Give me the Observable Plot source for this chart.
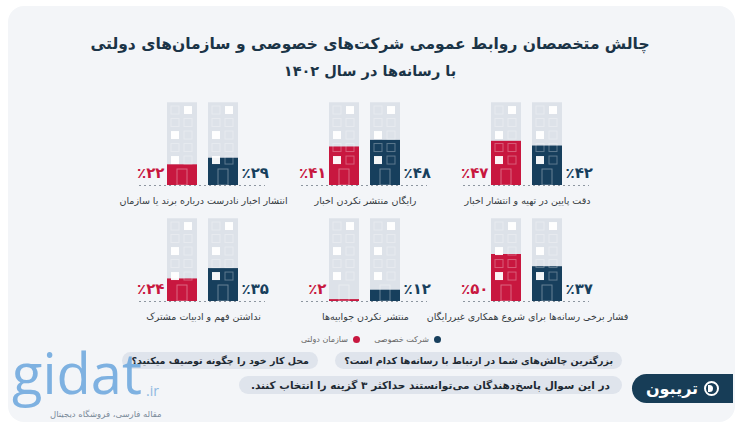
<!DOCTYPE html>
<html lang="fa">
<head>
<meta charset="utf-8">
<script src="https://cdn.jsdelivr.net/npm/d3@7"></script>
<script src="https://cdn.jsdelivr.net/npm/@observablehq/plot@0.6"></script>
<style>
  html, body { margin: 0; padding: 0; background: #ffffff; }
  #page { position: relative; width: 740px; height: 431px; overflow: hidden; font-family: "DejaVu Sans", sans-serif; }
  #card { position: absolute; left: 8px; top: 6px; width: 727px; height: 416px; background: #f3f5f8; border-radius: 16px; }
  #chart { position: absolute; left: 0; top: 0; }
  .title { position: absolute; left: 0; width: 740px; text-align: center; direction: rtl; color: #1b3447; font-weight: bold; }
  .leg { position: absolute; direction: rtl; font-size: 8px; color: #666; display: flex; align-items: center; gap: 5px; top: 335px; }
  .dot { width: 7px; height: 7px; border-radius: 50%; display: inline-block; }
  .pill { position: absolute; direction: rtl; background: #dfe4ec; color: #1e2a33; font-weight: bold; font-size: 9.5px; border-radius: 10px; padding: 3px 9px; white-space: nowrap; }
  #logo { position: absolute; left: 632px; top: 374px; width: 101px; height: 29px; background: #173d57; border-radius: 15px 0 0 15px; color: #fff; display: flex; align-items: center; justify-content: center; gap: 6px; font-weight: bold; font-size: 16px; direction: rtl; }
  #logo .ic { width: 15px; height: 15px; border-radius: 50%; border: 2px solid #fff; box-sizing: border-box; position: relative; }
  #logo .ic::after { content: ""; position: absolute; left: 2px; top: 2px; width: 5px; height: 7px; background: #fff; border-radius: 0 4px 4px 0; }
  #wm { position: absolute; left: 12px; top: 344px; line-height: 1; font-family: "Open Sans", "DejaVu Sans", sans-serif; font-size: 56px; color: #6aa6dd; opacity: 0.85; }
  #wmir { position: absolute; left: 146px; top: 384px; line-height: 1; font-family: "Open Sans", sans-serif; font-size: 14px; color: #8fb9e2; }
  #wmsub { position: absolute; left: 50px; top: 410px; line-height: 1; direction: rtl; font-size: 8.5px; color: #7a8a99; }
</style>
</head>
<body>
<div id="page">
  <div id="card"></div>
  <div class="title" style="top:35px;font-size:15.5px;">چالش متخصصان روابط عمومی شرکت‌های خصوصی و سازمان‌های دولتی</div>
  <div class="title" style="top:63px;font-size:14.5px;">با رسانه‌ها در سال ۱۴۰۲</div>
  <div id="chart"></div>
  <div class="leg" style="right:299px;"><span class="dot" style="background:#173f5d"></span><span id="leg0"></span></div>
  <div class="leg" style="right:380px;"><span class="dot" style="background:#c8173f"></span><span id="leg1"></span></div>
  <div class="pill" style="right:118px;top:352px;">بزرگترین چالش‌های شما در ارتباط با رسانه‌ها کدام است؟</div>
  <div class="pill" style="right:422px;top:352px;">محل کار خود را چگونه توصیف میکنید؟</div>
  <div class="pill" style="right:118px;top:376px;font-size:10.5px;padding:3px 12px;">در این سوال پاسخ‌دهندگان می‌توانستند حداکثر ۳ گزینه را انتخاب کنند.</div>
  <div id="logo"><span class="ic"></span><span>تریبون</span></div>
  <div id="wm">gidat</div>
  <div id="wmir">.ir</div>
  <div id="wmsub">مقاله فارسی، فروشگاه دیجیتال</div>
</div>
<script>
// ---- data ----
const categories = [
  "دقت پایین در تهیه و انتشار اخبار",
  "رایگان منتشر نکردن اخبار",
  "انتشار اخبار نادرست درباره برند یا سازمان",
  "فشار برخی رسانه‌ها برای شروع همکاری غیررایگان",
  "منتشر نکردن جوابیه‌ها",
  "نداشتن فهم و ادبیات مشترک"
];
const privateValues = [42, 48, 29, 37, 12, 35];
const governmentValues = [47, 41, 22, 50, 2, 24];
const seriesKeys = ["gov", "priv"];
const seriesNames = ["سازمان دولتی", "شرکت خصوصی"];

// ---- style constants ----
const RED = "#c8173f", NAVY = "#173f5d", GRAY = "#dde2e9";
const buildingHeight = 88;               // full building (in % units)
const windowLevels = [22.3, 35.6, 48.9, 62.2, 75.5];
const windowSize = 8.5;
const litWindows = [[4, 1], [2, 0], [0, 0]];

const faDigits = "۰۱۲۳۴۵۶۷۸۹";
const fa = n => String(n).replace(/\d/g, d => faDigits[d]);

document.getElementById("leg0").textContent = seriesNames[1];
document.getElementById("leg1").textContent = seriesNames[0];

const panels = categories.map((label, i) => ({label, col: i % 3, row: Math.floor(i / 3)}));
const rows = [];
panels.forEach((p, i) => {
  rows.push({...p, series: "gov", value: governmentValues[i]});
  rows.push({...p, series: "priv", value: privateValues[i]});
});
const windows = [];
rows.forEach(r => {
  windowLevels.forEach((lv, k) => {
    for (const c of [0, 1]) {
      windows.push({...r, y1: lv, y2: lv + windowSize, c, lit: litWindows.some(([a, b]) => a === k && b === c)});
    }
  });
});
const winMark = (c, lit) => Plot.barY(windows.filter(w => w.c === c && w.lit === lit), {
  x: "series", y1: "y1", y2: "y2", fx: "col", fy: "row",
  insetLeft: c === 0 ? 4 : 17, insetRight: c === 0 ? 18 : 5,
  fill: lit ? "#ffffff" : "none", fillOpacity: 0.95,
  stroke: "#ffffff", strokeOpacity: lit ? 0 : 0.3, strokeWidth: 1
});

const chart = Plot.plot({
  width: 740, height: 431,
  marginTop: 91, marginBottom: 130, marginLeft: 122, marginRight: 132,
  style: {background: "transparent", fontFamily: "DejaVu Sans, sans-serif", overflow: "visible"},
  fx: {domain: [2, 1, 0], axis: null, paddingInner: 0, paddingOuter: 0},
  fy: {domain: [0, 1], axis: null, paddingInner: 0.19, paddingOuter: 0},
  x: {domain: seriesKeys, axis: null, paddingInner: 0.268, paddingOuter: 1.1},
  y: {domain: [0, 100], axis: null},
  color: {domain: seriesKeys, range: [RED, NAVY]},
  marks: [
    Plot.barY(rows, {x: "series", y: () => buildingHeight, fx: "col", fy: "row", fill: GRAY}),
    Plot.barY(rows, {x: "series", y: "value", fx: "col", fy: "row", fill: "series"}),
    winMark(0, false), winMark(1, false), winMark(0, true), winMark(1, true),
    Plot.barY(rows, {x: "series", y1: 0, y2: 17, fx: "col", fy: "row", insetLeft: 10, insetRight: 10,
      fill: "none", stroke: "#ffffff", strokeOpacity: 0.35}),
    Plot.ruleY([0], {insetLeft: 17, insetRight: 19, stroke: "#8d96a0", strokeDasharray: "2,3", strokeWidth: 1}),
    Plot.text(rows.filter(r => r.series === "gov"), {x: "series", y: 0, fx: "col", fy: "row",
      text: d => "٪" + fa(d.value), textAnchor: "end", dx: -18, dy: -12,
      fill: RED, fontSize: 15, fontWeight: "bold"}),
    Plot.text(rows.filter(r => r.series === "priv"), {x: "series", y: 0, fx: "col", fy: "row",
      text: d => "٪" + fa(d.value), textAnchor: "start", dx: 18, dy: -12,
      fill: NAVY, fontSize: 15, fontWeight: "bold"}),
    Plot.text(panels, {fx: "col", fy: "row", frameAnchor: "bottom", dy: 18.5, text: "label",
      fontSize: 9.5, fill: "#333a40"})
  ]
});
document.getElementById("chart").appendChild(chart);
</script>
</body>
</html>
